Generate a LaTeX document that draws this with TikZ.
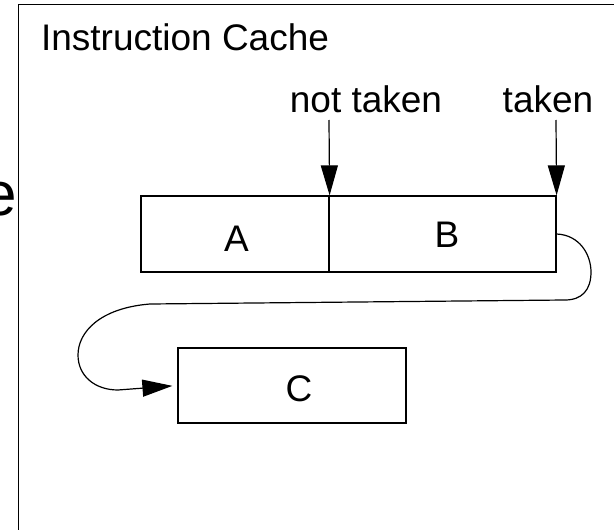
\documentclass[tikz,border=0pt]{standalone}
\usepackage{fontspec}
\setmainfont{Liberation Sans}
\usetikzlibrary{arrows.meta}
\begin{document}
\begin{tikzpicture}[x=1pt,y=-1pt,
  line width=1.2pt,
  cell/.style={draw, rectangle, inner sep=0pt, line width=1.2pt},
  txt/.style={inner sep=0pt, font=\fontsize{37}{44}\selectfont},
  flow/.style={-{Triangle[length=30pt,width=17pt]}, line width=1.2pt},
]
\useasboundingbox (0,0) rectangle (614,530);
\clip (0,0) rectangle (614,530);

% outer cache frame (continues past the right and bottom borders)
\draw[line width=1pt] (630,4) -- (18,4) -- (18,545);
% fragment of a larger label cut off at the left border
\node[inner sep=0pt, anchor=base east, font=\fontsize{62}{70}\selectfont] (frag) at (17.5,215) {e};

\node[txt, anchor=base west] (title) at (40.5,50) {Instruction Cache};

% cache blocks
\node[cell, minimum width=188pt, minimum height=76pt] (A) at (235,234) {};
\node[cell, minimum width=227pt, minimum height=76pt] (B) at (442.5,234) {};
\node[cell, minimum width=228pt, minimum height=75pt] (C) at (292,385.5) {};

\node[txt, anchor=base] (lA) at (236.5,251) {A};
\node[txt, anchor=base] (lB) at (447,247) {B};
\node[txt, anchor=base] (lC) at (299,401) {C};

% branch targets
\node[txt, anchor=base] (nt) at (366,112) {not taken};
\node[txt, anchor=base] (tk) at (548,112) {taken};
\coordinate (ntTop) at (329,120);
\coordinate (tkTop) at (556,120);
\draw[flow] (ntTop) -- (A.north east);
\draw[flow] (tkTop) -- (B.north east);

% fall-through path from the end of B around to C
\draw[flow, shorten >=5pt] (B.east)
  .. controls (580,235) and (591,255) .. (591,272)
  .. controls (591,290) and (582,300) .. (565,300)
  -- (150,304)
  .. controls (100,308) and (78,332) .. (78,355)
  .. controls (78,376) and (95,390) .. (118,390)
  -- (C.west);
\end{tikzpicture}
\end{document}
